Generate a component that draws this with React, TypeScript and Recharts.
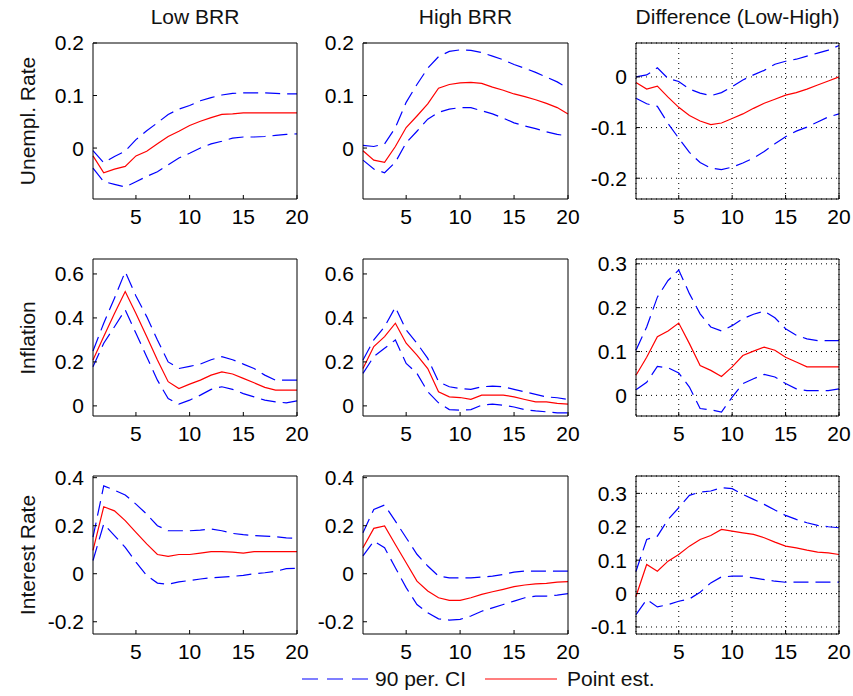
import React from "react";
import { LineChart, Line, XAxis, YAxis, CartesianGrid } from "recharts";

// horizons (quarters)
const horizons = [1, 2, 3, 4, 5, 6, 7, 8, 9, 10, 11, 12, 13, 14, 15, 16, 17, 18, 19, 20];
const xTicks = [5, 10, 15, 20];

const columnTitles = ["Low BRR", "High BRR", "Difference (Low-High)"];
const rowTitles = ["Unempl. Rate", "Inflation", "Interest Rate"];
const legendLabels = ["90 per. CI", "Point est."];

// Unemployment rate
const unempLowPoint = [-0.015, -0.047, -0.04, -0.035, -0.015, -0.006, 0.008, 0.022, 0.032, 0.043, 0.051, 0.058, 0.064, 0.065, 0.067, 0.067, 0.067, 0.067, 0.067, 0.067];
const unempLowUpper = [-0.005, -0.028, -0.016, -0.006, 0.016, 0.033, 0.048, 0.064, 0.074, 0.081, 0.09, 0.096, 0.101, 0.104, 0.105, 0.105, 0.105, 0.104, 0.103, 0.103];
const unempLowLower = [-0.038, -0.064, -0.069, -0.074, -0.064, -0.054, -0.045, -0.032, -0.019, -0.01, 0.0, 0.008, 0.013, 0.019, 0.021, 0.021, 0.022, 0.024, 0.026, 0.027];

const unempHighPoint = [-0.005, -0.023, -0.027, 0.003, 0.039, 0.061, 0.084, 0.114, 0.121, 0.124, 0.125, 0.123, 0.116, 0.11, 0.103, 0.098, 0.092, 0.085, 0.077, 0.065];
const unempHighUpper = [0.005, 0.003, 0.008, 0.039, 0.087, 0.121, 0.152, 0.174, 0.184, 0.187, 0.186, 0.182, 0.175, 0.168, 0.159, 0.152, 0.144, 0.135, 0.126, 0.114];
const unempHighLower = [-0.023, -0.04, -0.047, -0.027, 0.01, 0.032, 0.055, 0.068, 0.074, 0.077, 0.077, 0.071, 0.065, 0.057, 0.048, 0.042, 0.037, 0.031, 0.026, 0.023];

const unempDiffPoint = [-0.011, -0.024, -0.018, -0.04, -0.06, -0.076, -0.087, -0.094, -0.091, -0.082, -0.073, -0.062, -0.052, -0.044, -0.036, -0.031, -0.024, -0.016, -0.008, 0.0];
const unempDiffUpper = [0.0, 0.004, 0.018, -0.003, -0.009, -0.024, -0.032, -0.037, -0.031, -0.019, -0.006, 0.004, 0.013, 0.025, 0.031, 0.035, 0.041, 0.047, 0.053, 0.062];
const unempDiffLower = [-0.042, -0.053, -0.058, -0.092, -0.121, -0.149, -0.169, -0.18, -0.183, -0.178, -0.17, -0.16, -0.147, -0.132, -0.118, -0.107, -0.099, -0.089, -0.079, -0.073];

// Inflation
const inflLowPoint = [0.209, 0.315, 0.42, 0.52, 0.42, 0.315, 0.209, 0.11, 0.079, 0.099, 0.117, 0.14, 0.155, 0.145, 0.125, 0.105, 0.084, 0.072, 0.072, 0.072];
const inflLowUpper = [0.25, 0.376, 0.49, 0.61, 0.5, 0.406, 0.3, 0.2, 0.17, 0.18, 0.19, 0.21, 0.224, 0.21, 0.19, 0.17, 0.14, 0.117, 0.117, 0.117];
const inflLowLower = [0.178, 0.285, 0.36, 0.437, 0.33, 0.224, 0.117, 0.033, 0.008, 0.026, 0.049, 0.075, 0.087, 0.075, 0.056, 0.041, 0.026, 0.018, 0.014, 0.023];

const inflHighPoint = [0.17, 0.27, 0.315, 0.376, 0.285, 0.231, 0.17, 0.064, 0.041, 0.038, 0.03, 0.049, 0.049, 0.049, 0.041, 0.029, 0.018, 0.018, 0.011, 0.008];
const inflHighUpper = [0.209, 0.3, 0.36, 0.449, 0.345, 0.285, 0.216, 0.11, 0.087, 0.079, 0.075, 0.087, 0.09, 0.087, 0.075, 0.064, 0.052, 0.041, 0.037, 0.029];
const inflHighLower = [0.148, 0.224, 0.262, 0.3, 0.193, 0.148, 0.064, 0.014, -0.017, -0.02, -0.017, 0.003, 0.008, 0.003, -0.005, -0.017, -0.023, -0.027, -0.032, -0.032];

const inflDiffPoint = [0.046, 0.087, 0.134, 0.147, 0.165, 0.118, 0.068, 0.057, 0.043, 0.065, 0.091, 0.101, 0.11, 0.103, 0.087, 0.076, 0.065, 0.065, 0.065, 0.065];
const inflDiffUpper = [0.103, 0.156, 0.224, 0.262, 0.286, 0.232, 0.186, 0.156, 0.147, 0.159, 0.175, 0.185, 0.192, 0.177, 0.152, 0.137, 0.129, 0.125, 0.125, 0.125];
const inflDiffLower = [0.013, 0.03, 0.066, 0.063, 0.051, 0.019, -0.03, -0.033, -0.038, -0.004, 0.027, 0.038, 0.048, 0.042, 0.027, 0.015, 0.011, 0.011, 0.011, 0.015];

// Interest rate
const rateLowPoint = [0.097, 0.279, 0.262, 0.221, 0.172, 0.124, 0.08, 0.072, 0.08, 0.08, 0.086, 0.092, 0.092, 0.09, 0.086, 0.092, 0.092, 0.092, 0.092, 0.092];
const rateLowUpper = [0.152, 0.366, 0.348, 0.328, 0.29, 0.248, 0.2, 0.179, 0.179, 0.179, 0.182, 0.186, 0.179, 0.168, 0.163, 0.159, 0.157, 0.154, 0.149, 0.148];
const rateLowLower = [0.055, 0.207, 0.159, 0.11, 0.048, -0.007, -0.039, -0.044, -0.034, -0.028, -0.022, -0.017, -0.014, -0.011, -0.007, 0.0, 0.004, 0.01, 0.021, 0.023];

const rateHighPoint = [0.108, 0.189, 0.199, 0.122, 0.046, -0.031, -0.072, -0.1, -0.111, -0.111, -0.1, -0.086, -0.075, -0.065, -0.054, -0.047, -0.042, -0.04, -0.035, -0.033];
const rateHighUpper = [0.171, 0.268, 0.286, 0.219, 0.15, 0.081, 0.032, -0.01, -0.017, -0.017, -0.017, -0.014, -0.01, -0.003, 0.007, 0.011, 0.011, 0.011, 0.011, 0.011];
const rateHighLower = [0.074, 0.136, 0.108, 0.025, -0.058, -0.128, -0.163, -0.188, -0.193, -0.19, -0.176, -0.156, -0.142, -0.128, -0.114, -0.1, -0.093, -0.093, -0.089, -0.083];

const rateDiffPoint = [-0.008, 0.087, 0.067, 0.097, 0.117, 0.142, 0.162, 0.174, 0.192, 0.187, 0.182, 0.177, 0.167, 0.154, 0.142, 0.137, 0.13, 0.124, 0.122, 0.117];
const rateDiffUpper = [0.067, 0.162, 0.172, 0.222, 0.257, 0.294, 0.304, 0.307, 0.317, 0.314, 0.297, 0.282, 0.267, 0.25, 0.234, 0.222, 0.212, 0.204, 0.2, 0.197];
const rateDiffLower = [-0.063, -0.018, -0.04, -0.033, -0.023, -0.016, 0.004, 0.032, 0.05, 0.052, 0.052, 0.047, 0.042, 0.037, 0.034, 0.034, 0.034, 0.034, 0.034, 0.034];

// plot-area geometry of the 3x3 grid
const colLeft = [93, 363, 636];
const colWidth = [204, 205, 203];
const rowTop = [43, 259, 476];
const rowHeight = [156, 157, 158];

const FONT = "'Liberation Sans', Arial, sans-serif";
const FS = 21;
const BLUE = "#0000ff";
const RED = "#ff0000";
const DASH = "15 7";

type PanelProps = {
  point: number[];
  upper: number[];
  lower: number[];
  domain: [number, number];
  yTicks: number[];
  grid?: boolean;
  row: number;
  col: number;
};

const AXIS_W = 60;
const TOP_M = 13;
const RIGHT_M = 15;
const BOTTOM_H = 40;

const Panel = ({ point, upper, lower, domain, yTicks, grid, row, col }: PanelProps) => {
  const data = horizons.map((h, i) => ({
    h,
    point: point[i],
    upper: upper[i],
    lower: lower[i],
  }));
  const w = colWidth[col];
  const h = rowHeight[row];
  const tickStyle = { fill: "#000", fontSize: FS, fontFamily: FONT };
  const lineStyle = { stroke: "#000", strokeWidth: 1 };

  return (
    <div
      style={{
        position: "absolute",
        left: colLeft[col] - AXIS_W,
        top: rowTop[row] - TOP_M - 1,
      }}
    >
      <LineChart
        width={AXIS_W + w + 1 + RIGHT_M}
        height={TOP_M + 1 + h + BOTTOM_H}
        data={data}
        margin={{ top: TOP_M, right: RIGHT_M, bottom: 0, left: 0 }}
      >
        {grid && (
          <CartesianGrid stroke="#000" strokeDasharray="1 4" fill="none" />
        )}
        <XAxis
          dataKey="h"
          type="number"
          domain={[1, 20]}
          ticks={xTicks}
          interval={0}
          height={BOTTOM_H}
          tickSize={-4}
          tickMargin={14}
          tick={tickStyle}
          axisLine={lineStyle}
          tickLine={lineStyle}
        />
        <XAxis
          xAxisId="top"
          orientation="top"
          type="number"
          domain={[1, 20]}
          ticks={xTicks}
          interval={0}
          height={1}
          tickSize={-4}
          tick={false}
          axisLine={lineStyle}
          tickLine={lineStyle}
        />
        <YAxis
          type="number"
          domain={domain}
          ticks={yTicks}
          interval={0}
          width={AXIS_W}
          allowDataOverflow
          tickSize={-4}
          tickMargin={13}
          tick={tickStyle}
          axisLine={lineStyle}
          tickLine={lineStyle}
        />
        <YAxis
          yAxisId="right"
          orientation="right"
          type="number"
          domain={domain}
          ticks={yTicks}
          interval={0}
          width={1}
          allowDataOverflow
          tickSize={-4}
          tick={false}
          axisLine={lineStyle}
          tickLine={lineStyle}
        />
        <Line
          type="linear"
          dataKey="upper"
          stroke={BLUE}
          strokeWidth={1.2}
          strokeDasharray={DASH}
          dot={false}
          isAnimationActive={false}
        />
        <Line
          type="linear"
          dataKey="lower"
          stroke={BLUE}
          strokeWidth={1.2}
          strokeDasharray={DASH}
          dot={false}
          isAnimationActive={false}
        />
        <Line
          type="linear"
          dataKey="point"
          stroke={RED}
          strokeWidth={1.2}
          dot={false}
          isAnimationActive={false}
        />
      </LineChart>
    </div>
  );
};

const App = () => {
  const textStyle: React.CSSProperties = {
    position: "absolute",
    fontFamily: FONT,
    fontSize: FS,
    color: "#111",
    whiteSpace: "nowrap",
    lineHeight: "24px",
  };

  return (
    <div
      style={{
        position: "absolute",
        left: 0,
        top: 0,
        width: 853,
        height: 696,
        background: "#fff",
        fontFamily: FONT,
      }}
    >
      {columnTitles.map((t, c) => (
        <div
          key={t}
          style={{
            ...textStyle,
            left: colLeft[c] + colWidth[c] / 2 - 150,
            width: 300,
            textAlign: "center",
            top: 5,
          }}
        >
          {t}
        </div>
      ))}
      {rowTitles.map((t, r) => (
        <div
          key={t}
          style={{
            ...textStyle,
            left: 28 - 100,
            width: 200,
            textAlign: "center",
            top: rowTop[r] + rowHeight[r] / 2 - 12,
            transform: "rotate(-90deg)",
          }}
        >
          {t}
        </div>
      ))}

      <Panel point={unempLowPoint} upper={unempLowUpper} lower={unempLowLower} domain={[-0.097, 0.2]} yTicks={[0, 0.1, 0.2]} row={0} col={0} />
      <Panel point={unempHighPoint} upper={unempHighUpper} lower={unempHighLower} domain={[-0.097, 0.2]} yTicks={[0, 0.1, 0.2]} row={0} col={1} />
      <Panel point={unempDiffPoint} upper={unempDiffUpper} lower={unempDiffLower} domain={[-0.241, 0.067]} yTicks={[-0.2, -0.1, 0]} grid row={0} col={2} />

      <Panel point={inflLowPoint} upper={inflLowUpper} lower={inflLowLower} domain={[-0.046, 0.668]} yTicks={[0, 0.2, 0.4, 0.6]} row={1} col={0} />
      <Panel point={inflHighPoint} upper={inflHighUpper} lower={inflHighLower} domain={[-0.046, 0.668]} yTicks={[0, 0.2, 0.4, 0.6]} row={1} col={1} />
      <Panel point={inflDiffPoint} upper={inflDiffUpper} lower={inflDiffLower} domain={[-0.047, 0.311]} yTicks={[0, 0.1, 0.2, 0.3]} grid row={1} col={2} />

      <Panel point={rateLowPoint} upper={rateLowUpper} lower={rateLowLower} domain={[-0.251, 0.407]} yTicks={[-0.2, 0, 0.2, 0.4]} row={2} col={0} />
      <Panel point={rateHighPoint} upper={rateHighUpper} lower={rateHighLower} domain={[-0.251, 0.407]} yTicks={[-0.2, 0, 0.2, 0.4]} row={2} col={1} />
      <Panel point={rateDiffPoint} upper={rateDiffUpper} lower={rateDiffLower} domain={[-0.121, 0.352]} yTicks={[-0.1, 0, 0.1, 0.2, 0.3]} grid row={2} col={2} />

      {/* legend */}
      <svg style={{ position: "absolute", left: 300, top: 672 }} width={260} height={14}>
        <line x1={2} y1={7} x2={68} y2={7} stroke={BLUE} strokeWidth={1.2} strokeDasharray="16 9" />
        <line x1={185} y1={7} x2={257} y2={7} stroke={RED} strokeWidth={1.2} />
      </svg>
      <div style={{ ...textStyle, left: 375, top: 667 }}>{legendLabels[0]}</div>
      <div style={{ ...textStyle, left: 567, top: 667 }}>{legendLabels[1]}</div>
    </div>
  );
};

export default App;
